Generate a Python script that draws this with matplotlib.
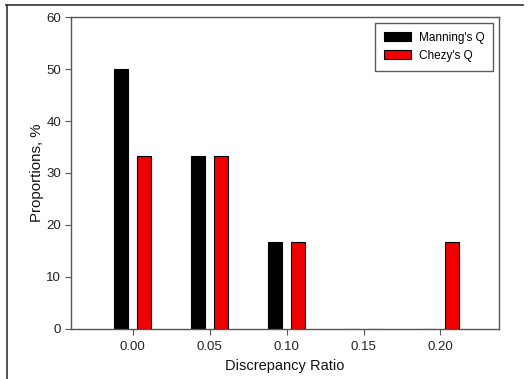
import matplotlib
matplotlib.use("Agg")
import matplotlib.pyplot as plt
from matplotlib.lines import Line2D

plt.rcParams['font.family'] = ['Liberation Sans', 'DejaVu Sans']

ratios = [0.00, 0.05, 0.10, 0.15, 0.20]
manning = [50.0, 33.33, 16.67, 0.0, 0.0]
chezy = [33.33, 33.33, 16.67, 0.0, 16.67]
xticks = [0.00, 0.05, 0.10, 0.15, 0.20]
xtick_labels = ["0.00", "0.05", "0.10", "0.15", "0.20"]
yticks = [0, 10, 20, 30, 40, 50, 60]

W, H = 532, 379
fig = plt.figure(figsize=(W / 100, H / 100), dpi=100)
ax = fig.add_axes([71 / W, 1 - 328.7 / H, (499 - 71) / W, (328.7 - 17.3) / H])

bw = 0.009
off = 0.0075
ax.bar([r - off for r in ratios], manning, width=bw, color='black',
       edgecolor='black', linewidth=0.8, label="Manning's Q")
ax.bar([r + off for r in ratios], chezy, width=bw, color='#f00000',
       edgecolor='black', linewidth=0.8, label="Chezy's Q")

ax.set_xlim(-0.04, 0.238)
ax.set_ylim(0, 60)
ax.set_xticks(xticks)
ax.set_xticklabels(xtick_labels)
ax.set_yticks(yticks)
ax.tick_params(axis='both', direction='out', length=4, width=0.8,
               color='#555555', labelsize=9.5, labelcolor='#222222')
ax.tick_params(axis='x', pad=5)
ax.tick_params(axis='y', pad=3)
for s in ax.spines.values():
    s.set_color('#555555')
    s.set_linewidth(1.0)

ax.set_xlabel('Discrepancy Ratio', fontsize=10.5, color='#111111', labelpad=4)
ax.set_ylabel('Proportions, %', fontsize=10.8, color='#111111')
ax.yaxis.set_label_coords(-0.062, 0.5)

leg = ax.legend(loc='upper right', bbox_to_anchor=(0.986, 0.982), fontsize=8.5,
                frameon=True, fancybox=False, edgecolor='#333333',
                handlelength=2.3, handleheight=0.75, borderpad=0.75,
                labelspacing=0.5, handletextpad=0.6, borderaxespad=0)
leg.get_frame().set_linewidth(1.0)

# frame edges along the top and left of the figure
fig.add_artist(Line2D([6 / W, 523 / W], [1 - 5 / H, 1 - 5 / H],
                      transform=fig.transFigure, color='#333333', lw=1.2))
fig.add_artist(Line2D([6.5 / W, 6.5 / W], [1 - 5 / H, 0],
                      transform=fig.transFigure, color='#333333', lw=1.2))

fig.savefig('out.png', dpi=100)
